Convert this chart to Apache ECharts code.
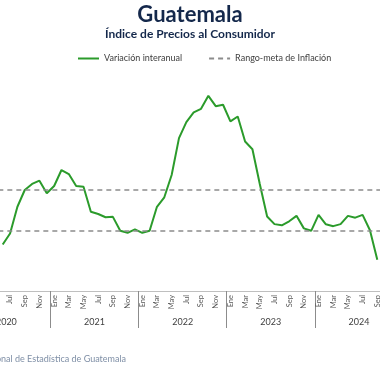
<!DOCTYPE html>
<html>
<head>
<meta charset="utf-8">
<script src="https://cdn.jsdelivr.net/npm/echarts@6/dist/echarts.min.js"></script>
<style>html,body{margin:0;padding:0;background:#fff;overflow:hidden;width:380px;height:380px;position:relative}#c{position:absolute;left:-38px;top:0;width:441px;height:380px}</style>
</head>
<body>
<div id="c"></div>
<script>
const years = ['2020', '2021', '2022', '2023', '2024'];
const monthNames = ['Ene', 'Feb', 'Mar', 'Abr', 'May', 'Jun', 'Jul', 'Ago', 'Sep', 'Oct', 'Nov', 'Dic'];
const variacion2020 = [null, null, null, null, null, 2.30, 2.85, 4.17, 5.00, 5.30, 5.46, 4.84];
const variacion2021 = [5.20, 5.99, 5.79, 5.20, 5.16, 3.92, 3.81, 3.65, 3.67, 2.98, 2.88, 3.05];
const variacion2022 = [2.88, 2.98, 4.17, 4.64, 5.74, 7.57, 8.36, 8.84, 9.02, 9.66, 9.15, 9.22];
const variacion2023 = [8.40, 8.64, 7.40, 7.02, 5.30, 3.69, 3.31, 3.25, 3.45, 3.72, 3.10, 2.98];
const variacion2024 = [3.77, 3.30, 3.21, 3.31, 3.72, 3.63, 3.77, 3.01, 1.55, null, null, null];
const rangoMeta = [3, 5];

const months = [];
years.forEach(() => monthNames.forEach(m => months.push(m)));
const variacion = [].concat(variacion2020, variacion2021, variacion2022, variacion2023, variacion2024);

const OFF = 38; // container is shifted 38px left of the visible page
const font = 'Lato, "Noto Sans", sans-serif';
const chart = echarts.init(document.getElementById('c'), null, {renderer: 'canvas'});
chart.setOption({
  animation: false,
  textStyle: {fontFamily: font},
  legend: {
    left: 77 + OFF, top: 54, padding: 0, itemGap: 26, itemWidth: 21, itemHeight: 8,
    textStyle: {fontFamily: font, fontSize: 9, color: '#404040'},
    itemStyle: {opacity: 0},
    data: ['Variación interanual', 'Rango-meta de Inflación']
  },
  grid: {left: 0, right: 0, top: 89, bottom: 89},
  xAxis: [
    {type: 'category', data: months, boundaryGap: true,
     axisLine: {lineStyle: {color: '#bfbfbf', width: 1}},
     axisTick: {show: true, length: 37, interval: (i) => i % 12 === 0, lineStyle: {color: '#8c8c8c'}},
     axisLabel: {interval: 1, rotate: 90, fontSize: 7.5, color: '#595959', margin: 4, fontFamily: font}},
    {type: 'category', data: years, boundaryGap: true, position: 'bottom',
     axisLine: {show: false}, axisTick: {show: false},
     axisLabel: {fontSize: 9, color: '#404040', margin: 27, fontFamily: font}}
  ],
  yAxis: {type: 'value', min: 0, max: 10, show: false, splitLine: {show: false}},
  series: [
    {name: 'Variación interanual', type: 'line', data: variacion, symbol: 'none',
     lineStyle: {color: '#2b9b2b', width: 2}, itemStyle: {color: '#2b9b2b'}},
    {name: 'Rango-meta de Inflación', type: 'line', data: [], symbol: 'none',
     lineStyle: {color: '#8c8c8c', width: 1.5, type: [5, 4]}, itemStyle: {color: '#8c8c8c'},
     markLine: {silent: true, symbol: ['none', 'none'], label: {show: false},
       lineStyle: {color: '#8c8c8c', width: 1.5, type: [5, 4]},
       data: rangoMeta.map(v => ({yAxis: v}))}}
  ],
  graphic: [
    {type: 'text', x: 190 + OFF, y: 4,
     style: {text: 'Guatemala', fontSize: 22, fontWeight: 'bold', fontFamily: font,
       fill: '#14284b', align: 'center'}},
    {type: 'text', x: 190 + OFF, y: 28,
     style: {text: 'Índice de Precios al Consumidor', fontSize: 12, fontWeight: 'bold', fontFamily: font,
       fill: '#14284b', align: 'center'}},
    {type: 'text', x: 126 + OFF, y: 355,
     style: {text: 'Fuente: Instituto Nacional de Estadística de Guatemala', fontSize: 9,
       fontFamily: font, fill: '#7f8fa6', align: 'right'}}
  ]
});
</script>
</body>
</html>
